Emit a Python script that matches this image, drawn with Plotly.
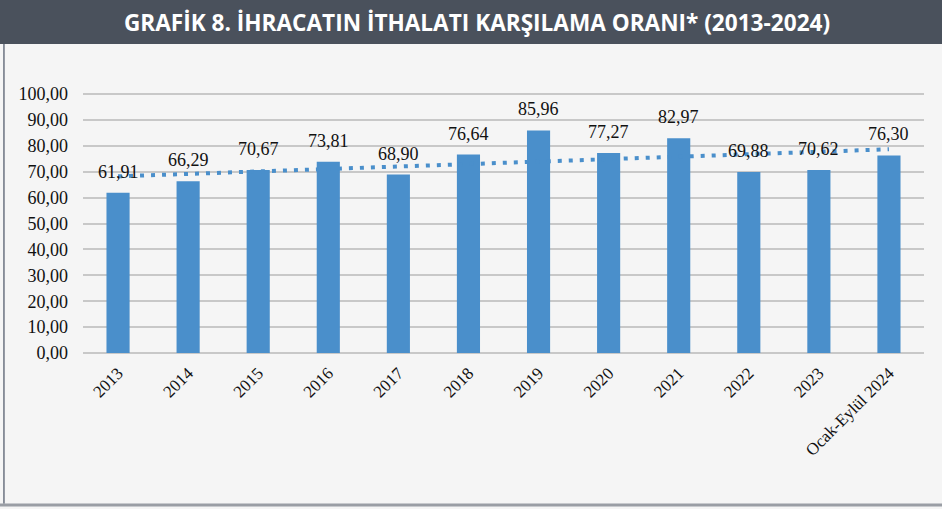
import numpy as np
import plotly.graph_objects as go

years = ["2013", "2014", "2015", "2016", "2017", "2018", "2019",
         "2020", "2021", "2022", "2023", "Ocak-Eylül 2024"]
ratios = [61.91, 66.29, 70.67, 73.81, 68.90, 76.64, 85.96,
          77.27, 82.97, 69.88, 70.62, 76.30]
y_ticks = [0, 10, 20, 30, 40, 50, 60, 70, 80, 90, 100]

# linear trend (Excel-style least squares) through the bar values
idx = np.arange(len(ratios))
slope, intercept = np.polyfit(idx, ratios, 1)
trend = intercept + slope * idx

labels = [f"{v:.2f}".replace(".", ",") for v in ratios]
tick_text = [f"{t:.2f}".replace(".", ",") for t in y_ticks]

fig = go.Figure()
fig.add_trace(
    go.Bar(
        x=years,
        y=ratios,
        marker={"color": "#4a8fcb", "line": {"width": 0}},
        showlegend=False,
    )
)
fig.add_trace(
    go.Scatter(
        x=years,
        y=trend,
        mode="lines",
        line={"color": "#4a8fcb", "width": 4, "dash": "4px,7px"},
        showlegend=False,
    )
)

# value labels sit a little above each bar (x given as category index)
for i, (val, lab) in enumerate(zip(ratios, labels)):
    fig.add_annotation(
        x=i, y=val, text=lab, showarrow=False,
        yanchor="bottom", yshift=9,
        font={"family": "Liberation Serif", "size": 18, "color": "#111111"},
    )

# title bar
fig.add_shape(
    type="rect", xref="paper", yref="paper",
    x0=-0.1, x1=1.1, y0=1.188, y1=1.5,
    fillcolor="#4a515c", line={"width": 0}, layer="below",
)
fig.add_annotation(
    xref="paper", yref="paper", x=0.468, y=1.273,
    text="<b>GRAFİK 8. İHRACATIN İTHALATI KARŞILAMA ORANI* (2013-2024)</b>",
    showarrow=False, xanchor="center", yanchor="middle",
    font={"family": "Open Sans", "size": 22.6, "color": "white"},
)
# left and bottom frame
fig.add_shape(
    type="line", xref="paper", yref="paper",
    x0=-0.094, x1=-0.094, y0=-0.58, y1=1.188,
    line={"color": "#6b7380", "width": 1.5},
)
fig.add_shape(
    type="line", xref="paper", yref="paper",
    x0=-0.1, x1=1.1, y0=-0.585, y1=-0.585,
    line={"color": "#9a9ea5", "width": 3},
)

fig.update_layout(
    width=942,
    height=509,
    margin={"l": 83, "r": 18, "t": 93, "b": 156, "autoexpand": False},
    plot_bgcolor="#f5f5f5",
    paper_bgcolor="#f5f5f5",
    bargap=0.67,
    font={"family": "Liberation Serif", "color": "#111111"},
)
fig.update_xaxes(
    type="category",
    range=[-0.5, len(years) - 0.5],
    tickangle=-45,
    tickfont={"family": "Liberation Serif", "size": 17, "color": "#111111"},
    showgrid=False,
    showline=False,
    ticks="",
    ticklabelstandoff=6,
    automargin=False,
)
fig.update_yaxes(
    range=[0, 100.4],
    tickvals=y_ticks,
    ticktext=tick_text,
    tickfont={"family": "Liberation Serif", "size": 18, "color": "#111111"},
    showgrid=True,
    gridcolor="#c8c8c8",
    gridwidth=1.5,
    zeroline=True,
    zerolinecolor="#c8c8c8",
    zerolinewidth=1.5,
    ticks="",
    ticklabelstandoff=14,
    automargin=False,
)

# drop the default 8px page margin so the figure fills the window
fig.write_html(
    "out.html",
    config={"displayModeBar": False},
    post_script="document.body.style.margin='0';",
)
